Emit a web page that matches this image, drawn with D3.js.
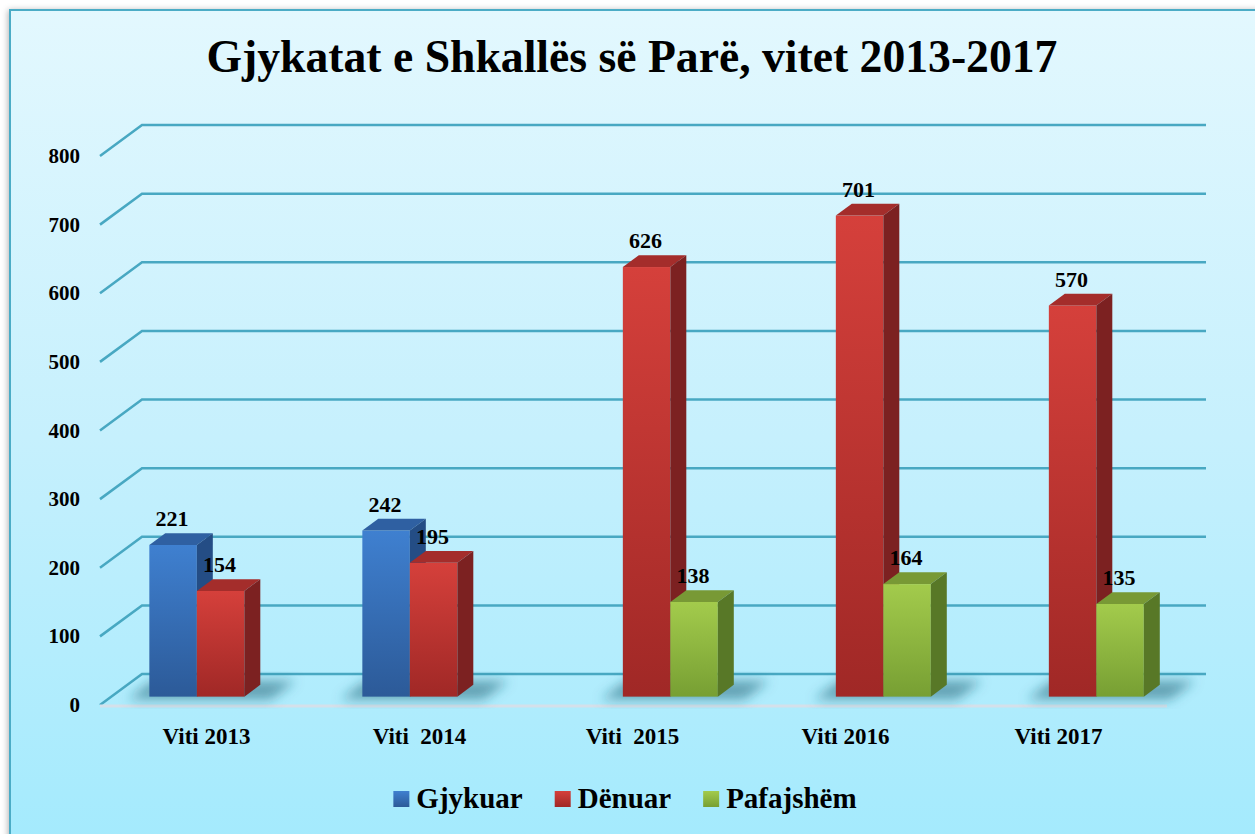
<!DOCTYPE html>
<html>
<head>
<meta charset="utf-8">
<script src="https://cdn.jsdelivr.net/npm/d3@7"></script>
<style>
  body { margin: 0; background: #fff; }
  svg { display: block; }
</style>
</head>
<body>
<script>
// data
const years = ["Viti 2013", "Viti  2014", "Viti  2015", "Viti 2016", "Viti 2017"];
const series = ["Gjykuar", "Dënuar", "Pafajshëm"];
const gjykuar = [221, 242, null, null, null];
const denuar = [154, 195, 626, 701, 570];
const pafajshem = [null, null, 138, 164, 135];
const yTicks = [0, 100, 200, 300, 400, 500, 600, 700, 800];
const title = "Gjykatat e Shkallës së Parë, vitet 2013-2017";

const width = 1255, height = 834;
const font = "'Liberation Serif', 'Times New Roman', serif";

// colours per series: front top / front bottom / top face / side
const colors = {
  "Gjykuar":   {f0: "#3f80d0", f1: "#2c5a98", top: "#2f60a2", side: "#244d85"},
  "Dënuar":    {f0: "#d5403b", f1: "#a02826", top: "#a42d2b", side: "#7c2121"},
  "Pafajshëm": {f0: "#a3cb4c", f1: "#779f33", top: "#789935", side: "#587827"}
};
const values = {"Gjykuar": gjykuar, "Dënuar": denuar, "Pafajshëm": pafajshem};

// oblique 3D: depth vector for full floor depth
const depthX = 42, depthY = -31;
const zFront = 0.27, zBack = 0.65;

const x = d3.scaleBand().domain(years).range([100, 1165]);
const xs = d3.scaleBand().domain(series).range([38, 180.5]);
const y = d3.scaleLinear().domain([0, 800]).range([705, 156]);

const P = (px, v, z) => [px + z * depthX, y(v) + z * depthY];

const svg = d3.select("body").append("svg")
    .attr("width", width)
    .attr("height", height);

const defs = svg.append("defs");

const bg = defs.append("linearGradient").attr("id", "bg")
    .attr("x1", 0).attr("y1", 0).attr("x2", 0).attr("y2", 1);
bg.append("stop").attr("offset", 0).attr("stop-color", "#e3f8fe");
bg.append("stop").attr("offset", 0.5).attr("stop-color", "#c6f0fd");
bg.append("stop").attr("offset", 1).attr("stop-color", "#a2eafd");

const fshadow = defs.append("filter").attr("id", "frameShadow")
    .attr("x", "-5%").attr("y", "-5%").attr("width", "110%").attr("height", "110%");
fshadow.append("feDropShadow").attr("dx", -1).attr("dy", 1).attr("stdDeviation", 3)
    .attr("flood-color", "#000").attr("flood-opacity", 0.3);

defs.append("filter").attr("id", "blur")
    .attr("x", "-50%").attr("y", "-50%").attr("width", "200%").attr("height", "200%")
  .append("feGaussianBlur").attr("stdDeviation", 6);

series.forEach((s, i) => {
  const g = defs.append("linearGradient").attr("id", "grad" + i)
      .attr("x1", 0).attr("y1", 0).attr("x2", 0).attr("y2", 1);
  g.append("stop").attr("offset", 0).attr("stop-color", colors[s].f0);
  g.append("stop").attr("offset", 1).attr("stop-color", colors[s].f1);
});

// frame
svg.append("rect")
    .attr("x", 10).attr("y", 10)
    .attr("width", width + 20).attr("height", height + 20)
    .attr("fill", "url(#bg)")
    .attr("stroke", "#4bacc6")
    .attr("stroke-width", 2)
    .attr("filter", "url(#frameShadow)");

// gridlines: front-left diagonal then back wall
const grid = svg.append("g")
    .attr("fill", "none")
    .attr("stroke", "#48a8c2")
    .attr("stroke-width", 2.5);
grid.selectAll("path")
  .data(yTicks)
  .join("path")
    .attr("d", v => {
      const a = P(100, v, 0), b = P(100, v, 1);
      return `M${a}L${b}L1206,${b[1]}`;
    });

// floor front edge
svg.append("line")
    .attr("x1", 100).attr("x2", 1167)
    .attr("y1", y(0) + 1).attr("y2", y(0) + 1)
    .attr("stroke", "#d4e0ea")
    .attr("stroke-width", 3);

// y axis labels
svg.append("g")
    .attr("font-family", font)
    .attr("font-weight", "bold")
    .attr("font-size", 21)
    .attr("text-anchor", "end")
  .selectAll("text")
  .data(yTicks)
  .join("text")
    .attr("x", 80)
    .attr("y", v => y(v) + 7)
    .text(v => v);

// bar records
const bars = [];
years.forEach((yr, i) => {
  series.forEach((s, j) => {
    const v = values[s][i];
    if (v == null) return;
    const x0 = x(yr) + xs(s);
    bars.push({year: yr, s, j, v, x0, x1: x0 + xs.bandwidth()});
  });
});

// floor shadows under each group
const groups = d3.groups(bars, d => d.year);
svg.append("g")
    .attr("filter", "url(#blur)")
  .selectAll("path")
  .data(groups)
  .join("path")
    .attr("fill", "#1d6479")
    .attr("fill-opacity", 0.55)
    .attr("d", ([, bs]) => {
      const gx0 = d3.min(bs, d => d.x0) - 18, gx1 = d3.max(bs, d => d.x1) + 30;
      const pts = [P(gx0, 0, 0.18), P(gx1, 0, 0.18), P(gx1, 0, 0.78), P(gx0, 0, 0.78)];
      return "M" + pts.join("L") + "Z";
    });

// bars, drawn left to right so that the next bar covers the side face
const barG = svg.append("g")
  .selectAll("g")
  .data(bars)
  .join("g");

barG.append("rect")
    .attr("x", d => P(d.x0, d.v, zFront)[0])
    .attr("y", d => P(d.x0, d.v, zFront)[1])
    .attr("width", d => d.x1 - d.x0)
    .attr("height", d => y(0) - y(d.v))
    .attr("fill", d => `url(#grad${d.j})`);

barG.append("path")
    .attr("fill", d => colors[d.s].top)
    .attr("d", d => "M" + [P(d.x0, d.v, zFront), P(d.x1, d.v, zFront),
                           P(d.x1, d.v, zBack), P(d.x0, d.v, zBack)].join("L") + "Z");

barG.append("path")
    .attr("fill", d => colors[d.s].side)
    .attr("d", d => "M" + [P(d.x1, 0, zFront), P(d.x1, d.v, zFront),
                           P(d.x1, d.v, zBack), P(d.x1, 0, zBack)].join("L") + "Z");

// value labels
svg.append("g")
    .attr("font-family", font)
    .attr("font-weight", "bold")
    .attr("font-size", 22)
    .attr("text-anchor", "middle")
  .selectAll("text")
  .data(bars)
  .join("text")
    .attr("x", d => P((d.x0 + d.x1) / 2, d.v, zFront)[0] - 1)
    .attr("y", d => P(d.x0, d.v, zBack)[1] - 7)
    .text(d => d.v);

// category labels
svg.append("g")
    .attr("font-family", font)
    .attr("font-weight", "bold")
    .attr("font-size", 23)
    .attr("text-anchor", "middle")
  .selectAll("text")
  .data(years)
  .join("text")
    .attr("x", d => x(d) + x.bandwidth() / 2)
    .attr("y", 744)
    .attr("xml:space", "preserve")
    .style("white-space", "pre")
    .text(d => d);

// title, fitted to the width it has in the picture
const t = svg.append("text")
    .attr("x", 632)
    .attr("y", 72)
    .attr("text-anchor", "middle")
    .attr("font-family", font)
    .attr("font-weight", "bold")
    .attr("font-size", 44)
    .text(title);
const tw = t.node().getComputedTextLength();
t.attr("font-size", 44 * 851 / tw);

// legend
const legend = svg.append("g")
    .attr("font-family", font)
    .attr("font-weight", "bold")
    .attr("font-size", 29);
const items = legend.selectAll("g")
  .data(series)
  .join("g");
items.append("rect")
    .attr("width", 16).attr("height", 16)
    .attr("y", 791)
    .attr("fill", (d, i) => `url(#grad${i})`);
items.append("text")
    .attr("x", 23)
    .attr("y", 808)
    .text(d => d);
let lx = 0;
const offsets = [];
items.each(function () {
  offsets.push(lx);
  const w = d3.select(this).select("text").node().getComputedTextLength();
  lx += 23 + w + 32;
});
const total = lx - 32;
const start = 625 - total / 2;
items.attr("transform", (d, i) => `translate(${start + offsets[i]},0)`);
</script>
</body>
</html>
